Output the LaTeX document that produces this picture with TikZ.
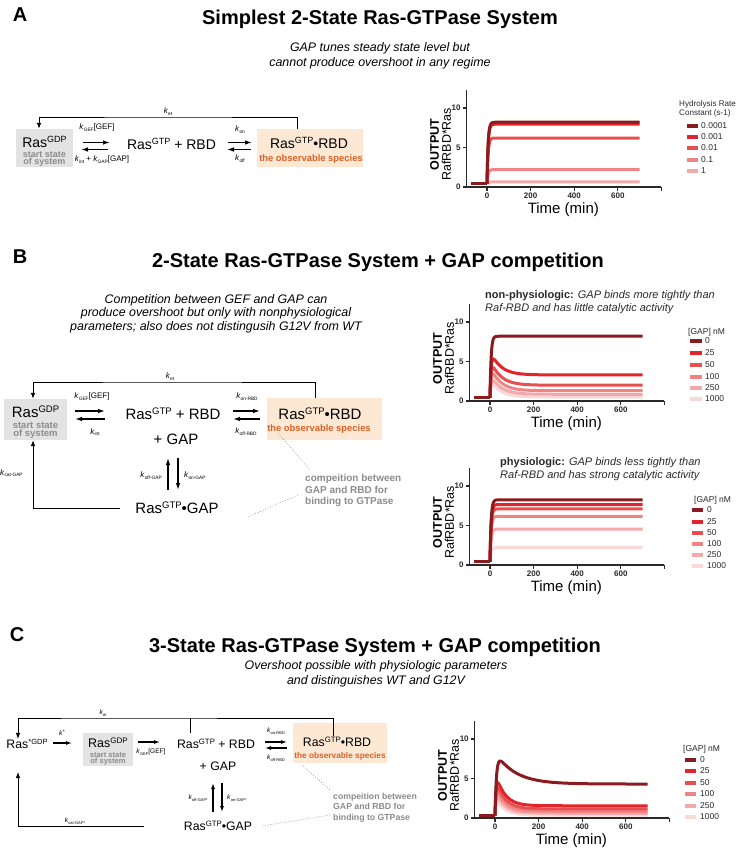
\documentclass[tikz,border=0pt]{standalone}
\usepackage{fontspec}
\setmainfont{Liberation Sans}
\usetikzlibrary{arrows.meta}
\definecolor{gboxc}{HTML}{E3E3E3}
\definecolor{oboxc}{HTML}{FDE8D4}
\definecolor{otxt}{HTML}{D4632A}
\definecolor{gtxt}{HTML}{8C8C8C}
\definecolor{axc}{HTML}{2A2A2A}
\definecolor{c0}{HTML}{8A1B1E}
\definecolor{c1}{HTML}{E2252A}
\definecolor{c2}{HTML}{E84F4E}
\definecolor{c3}{HTML}{EE8483}
\definecolor{c4}{HTML}{F3A9A9}
\definecolor{c5}{HTML}{F8D8D8}
\newcommand{\fs}[1]{\fontsize{#1}{#1}\selectfont}
\newcommand{\Sp}[2]{\raisebox{0.36em}{\fs{#1}#2}}
\newcommand{\kr}[2][4.8]{\textit{k}\raisebox{-0.22em}{\fs{#1}#2}}
\newcommand{\RasGTP}[1]{Ras\Sp{#1}{GTP}}
\newcommand{\ovs}[6]{\draw[crvs,#1] plot[domain=0:40,samples=41] (\x,{#2*dc(\x,#3)+(#4+#5*dc(\x,#6))*rs(\x,#3)}) -- plot[domain=40:700,samples=67] (\x,{#2*dc(\x,#3)+(#4+#5*dc(\x,#6))*rs(\x,#3)});}
\newcommand{\axesbody}{%
  \draw[axl] (-95,12.3) -- (-95,0) -- (800,0);
  \foreach \vv in {0,5,10} {\draw[axl] (-95,\vv) -- (-109,\vv); \node[tkl, anchor=east] at (-120,\vv) {\vv};}
  \foreach \tk in {0,200,400,600,800} {\draw[axl] (\tk,0) -- (\tk,-0.5);}
  \foreach \tk in {0,200,400,600} {\node[tkl, anchor=north] at (\tk,-0.75) {\tk};}
  \node[font=\fs{15}, inner sep=0] at (350,-2.85) {Time (min)};
  \node[rotate=90, align=center, font=\fontsize{12.5}{12}\selectfont, inner sep=0] at (-213,5.4) {\textbf{OUTPUT}\\RafRBD*Ras};
}
\tikzset{
  lett/.style={font=\bfseries\fs{20}, inner sep=0},
  ttl/.style={font=\bfseries\fs{20}, inner sep=0},
  subt/.style={font=\itshape\fontsize{12.4}{15}\selectfont, align=center, inner sep=0},
  subtB/.style={font=\itshape\fontsize{12.4}{13.5}\selectfont, align=center, inner sep=0},
  graybox/.style={fill=gboxc, draw=none, inner sep=0},
  orangebox/.style={fill=oboxc, draw=none, inner sep=0},
  spA/.style={font=\fs{14}, inner sep=0},
  spB/.style={font=\fs{15}, inner sep=0},
  spC/.style={font=\fs{12.3}, inner sep=0},
  startA/.style={font=\bfseries\fontsize{9}{7.6}\selectfont, text=gtxt, align=center, inner sep=0},
  startB/.style={font=\bfseries\fontsize{9.5}{8}\selectfont, text=gtxt, align=center, inner sep=0},
  startC/.style={font=\bfseries\fontsize{7.6}{6.4}\selectfont, text=gtxt, align=center, inner sep=0},
  obsA/.style={font=\bfseries\fs{9.4}, text=otxt, inner sep=0},
  obsC/.style={font=\bfseries\fs{8.3}, text=otxt, inner sep=0},
  rate/.style={font=\fs{8}, inner sep=0},
  rateC/.style={font=\fs{6.6}, inner sep=0},
  comp/.style={font=\bfseries\fontsize{10}{11.5}\selectfont, text=gtxt, align=left, inner sep=0},
  compC/.style={font=\bfseries\fontsize{8.7}{10.3}\selectfont, text=gtxt, align=left, inner sep=0},
  eqar/.style={line width=1.3pt, -{Latex[length=7pt,width=4.6pt]}},
  eqarC/.style={line width=1.1pt, -{Latex[length=6pt,width=4pt]}},
  fbl/.style={line width=0.9pt},
  fbar/.style={line width=0.9pt, -{Latex[length=6pt,width=4.6pt]}},
  dotl/.style={gtxt, line width=0.7pt, dotted},
  axl/.style={axc, line width=1.3pt},
  tkl/.style={font=\bfseries\fs{8}, inner sep=0, text=axc},
  crvs/.style={line width=3pt, line join=round},
  legt/.style={font=\fontsize{8.5}{9.5}\selectfont, inner sep=0, text=axc},
  legtA/.style={font=\fontsize{8.1}{9.5}\selectfont, inner sep=0, text=axc},
  legsw/.style={line width=3.6pt},
  ptitle/.style={font=\fontsize{11}{13.5}\selectfont, align=left, inner sep=0, text=axc}
}
\begin{document}
\begin{tikzpicture}[x=1pt,y=-1pt,
  declare function={rs(\tm,\tc)=1-exp(max(-\tm/\tc,-15)); dc(\tm,\tc)=exp(max(-\tm/\tc,-15));}]
\fill[white] (0,0) rectangle (736,850);
\useasboundingbox (0,0) rectangle (736,850);

%================ PANEL A =================
\node[lett] (LA) at (20,15) {A};
\node[ttl] (TA) at (380,19) {Simplest 2-State Ras-GTPase System};
\node[subt] (SA) at (380,55.5) {GAP tunes steady state level but\\cannot produce overshoot in any regime};

\node[graybox, minimum width=57pt, minimum height=38pt] (Abx) at (44.5,148) {};
\node[spA] (Agdp) at (44.5,142) {Ras\Sp{9}{GDP}};
\node[startA] (Ast) at (44.5,159) {start state\\of system};
\node[spA] (Agtp) at (171.5,144) {\RasGTP{9} + RBD};
\node[orangebox, minimum width=106pt, minimum height=38pt] (Aobx) at (310,148) {};
\node[spA] (Arbd) at (309,143) {\RasGTP{9}\textbullet RBD};
\node[obsA] (Aobs) at (311,159.5) {the observable species};
\node[rate] (AkG) at (97,128) {\kr{GEF}[GEF]};
\node[rate] (AkI) at (102,160) {\kr{int} + \kr{GAP}[GAP]};
\node[rate] (Akon) at (240,130) {\kr{on}};
\node[rate] (Akoff) at (240,159) {\kr{off}};
\coordinate (Atop) at (168,117);
\node[rate] (Aket) at (168,112) {\kr{et}};
\draw[fbar] ([xshift=-13pt]Aobx.north) |- (Atop) -| ([xshift=-5.5pt]Abx.north);
\coordinate (Ae1a) at (83,142.5); \coordinate (Ae1b) at (110,142.5);
\coordinate (Ae1c) at (108,149.5); \coordinate (Ae1d) at (81,149.5);
\draw[eqar] (Ae1a) -- (Ae1b); \draw[eqar] (Ae1c) -- (Ae1d);
\coordinate (Ae2a) at (228,142.5); \coordinate (Ae2b) at (252,142.5);
\coordinate (Ae2c) at (251,149.5); \coordinate (Ae2d) at (227,149.5);
\draw[eqar] (Ae2a) -- (Ae2b); \draw[eqar] (Ae2c) -- (Ae2d);

% plot A
\begin{scope}[shift={(487,187)},x=0.218pt,y=7.9pt]
\axesbody
\ovs{c4}{0.4}{5}{0.65}{0}{1}
\ovs{c3}{0.4}{5}{2.2}{0}{1}
\ovs{c2}{0.4}{5}{6.2}{0}{1}
\ovs{c1}{0.4}{5}{7.95}{0}{1}
\ovs{c0}{0.4}{5}{8.2}{0}{1}
\draw[crvs,c0] (-75,0.4) -- (0,0.4);
\end{scope}
\node[legtA, anchor=north west, align=left] (LgA) at (679,100) {Hydrolysis Rate\\Constant (s-1)};
\foreach \clr/\lab/\yy in {c0/0.0001/126, c1/0.001/137, c2/0.01/148, c3/0.1/160, c4/1/171}
  {\draw[legsw,\clr] (687,\yy) -- (698,\yy); \node[legt, anchor=west] at (701,\yy) {\lab};}

%================ PANEL B =================
\node[lett] (LB) at (20,257) {B};
\node[ttl] (TB) at (378,262) {2-State Ras-GTPase System + GAP competition};
\node[subtB] (SB) at (216,313.5) {Competition between GEF and GAP can\\produce overshoot but only with nonphysiological\\parameters; also does not distingusih G12V from WT};

\node[graybox, minimum width=63pt, minimum height=41pt] (Bbx) at (35.5,419.5) {};
\node[spB] (Bgdp) at (35.5,412) {Ras\Sp{9.5}{GDP}};
\node[startB] (Bst) at (35.5,430) {start state\\of system};
\node[spB] (Bgtp) at (173,414) {\RasGTP{9.5} + RBD};
\node[spB] (Bgap) at (176,439) {+ GAP};
\node[orangebox, minimum width=115pt, minimum height=42pt] (Bobx) at (324.5,419) {};
\node[spB] (Brbd) at (320,414) {\RasGTP{9.5}\textbullet RBD};
\node[obsA] (Bobs) at (319,429) {the observable species};
\node[spB] (Bcpx) at (177,508) {\RasGTP{9.5}\textbullet GAP};
\node[rate] (BkG) at (92,397) {\kr{GEF}[GEF]};
\node[rate] (BkI) at (95,432) {\kr{int}};
\node[rate] (Bkon) at (247,397) {\kr{on-RBD}};
\node[rate] (Bkoff) at (246,432) {\kr{off-RBD}};
\node[rate, anchor=east] (BkoffG) at (162,476) {\kr{off-GAP}};
\node[rate, anchor=west] (BkonG) at (184,476) {\kr{on-GAP}};
\node[rate, anchor=west] (BkcG) at (0,473) {\kr{cat-GAP}};
\coordinate (Btop) at (170,382);
\node[rate] (Bket) at (170,377) {\kr{et}};
\draw[fbar] ([xshift=-9.5pt]Bobx.north) |- (Btop) -| ([xshift=-2.5pt]Bbx.north);
\draw[fbar] ([xshift=-15pt]Bcpx.west) -| ([xshift=-2.5pt]Bbx.south);
\coordinate (Be1a) at (75,411); \coordinate (Be1b) at (105,411);
\coordinate (Be1c) at (105,419); \coordinate (Be1d) at (75,419);
\draw[eqar] (Be1a) -- (Be1b); \draw[eqar] (Be1c) -- (Be1d);
\coordinate (Be2a) at (233,411); \coordinate (Be2b) at (260,411);
\coordinate (Be2c) at (260,419); \coordinate (Be2d) at (233,419);
\draw[eqar] (Be2a) -- (Be2b); \draw[eqar] (Be2c) -- (Be2d);
\coordinate (Bv1a) at (168,490); \coordinate (Bv1b) at (168,458);
\coordinate (Bv2a) at (178,458); \coordinate (Bv2b) at (178,490);
\draw[eqar] (Bv1a) -- (Bv1b); \draw[eqar] (Bv2a) -- (Bv2b);
\node[comp, anchor=west] (Bcomp) at (305,490.5) {compeition between\\GAP and RBD for\\binding to GTPase};
\coordinate (Bd1) at (278,433); \coordinate (Bd2) at (310,470);
\coordinate (Bd3) at (298,495); \coordinate (Bd4) at (248,517);
\draw[dotl] (Bd1) -- (Bd2); \draw[dotl] (Bd3) -- (Bd4);

% plot B1
\node[ptitle, anchor=north west] (PB1) at (485,290) {\textbf{non-physiologic:} \textit{GAP binds more tightly than}\\\textit{Raf-RBD and has little catalytic activity}};
\begin{scope}[shift={(490,401)},x=0.218pt,y=7.9pt]
\axesbody
\ovs{c5}{0.4}{5}{0.5}{2.23}{45}
\ovs{c4}{0.4}{5}{0.85}{2.63}{45}
\ovs{c3}{0.4}{5}{1.3}{3.18}{45}
\ovs{c2}{0.4}{5}{2.0}{3.37}{45}
\ovs{c1}{0.4}{5}{3.3}{3.18}{45}
\ovs{c0}{0.4}{5}{8.2}{0}{1}
\draw[crvs,c0] (-75,0.4) -- (0,0.4);
\end{scope}
\node[legt, anchor=west] (LgB1) at (688,332) {[GAP] nM};
\foreach \clr/\lab/\yy in {c0/0/341, c1/25/353, c2/50/365, c3/100/377, c4/250/388, c5/1000/399}
  {\draw[legsw,\clr] (690,\yy) -- (702,\yy); \node[legt, anchor=west] at (705,\yy) {\lab};}

% plot B2
\node[ptitle, anchor=north west] (PB2) at (500,457) {\textbf{physiologic:} \textit{GAP binds less tightly than}\\\textit{Raf-RBD and has strong catalytic activity}};
\begin{scope}[shift={(490,565)},x=0.218pt,y=7.9pt]
\axesbody
\ovs{c5}{0.4}{5}{2.2}{0}{1}
\ovs{c4}{0.4}{5}{4.55}{0}{1}
\ovs{c3}{0.4}{5}{6.15}{0}{1}
\ovs{c2}{0.4}{5}{7.1}{0}{1}
\ovs{c1}{0.4}{5}{7.65}{0}{1}
\ovs{c0}{0.4}{5}{8.25}{0}{1}
\draw[crvs,c0] (-75,0.4) -- (0,0.4);
\end{scope}
\node[legt, anchor=west] (LgB2) at (694,500) {[GAP] nM};
\foreach \clr/\lab/\yy in {c0/0/510, c1/25/522, c2/50/533, c3/100/544, c4/250/555, c5/1000/566}
  {\draw[legsw,\clr] (692,\yy) -- (703,\yy); \node[legt, anchor=west] at (707,\yy) {\lab};}

%================ PANEL C =================
\node[lett] (LC) at (17,635) {C};
\node[ttl] (TC) at (375,647) {3-State Ras-GTPase System + GAP competition};
\node[subt] (SC) at (376,673.5) {Overshoot possible with physiologic parameters\\and distinguishes WT and G12V};

\node[spC] (Cstar) at (27,744) {Ras\Sp{7.5}{*GDP}};
\node[graybox, minimum width=50pt, minimum height=33pt] (Cbx) at (108,749.5) {};
\node[font=\fs{12.5}, inner sep=0] (Cgdp) at (108,743) {Ras\Sp{8}{GDP}};
\node[startC] (Cst) at (108,758.5) {start state\\of system};
\node[spC] (Cgtp) at (216,744) {\RasGTP{7.8} + RBD};
\node[spC] (Cgap) at (218,766) {+ GAP};
\node[orangebox, minimum width=94pt, minimum height=40pt] (Cobx) at (340,743) {};
\node[spC] (Crbd) at (337,742) {\RasGTP{7.8}\textbullet RBD};
\node[obsC] (Cobs) at (340,756) {the observable species};
\node[spC] (Ccpx) at (218,826) {\RasGTP{7.8}\textbullet GAP};
\node[rateC] (Ckst) at (62,733) {\textit{k}\Sp{5}{*}};
\node[rateC] (CkG) at (151,752) {\kr[4]{GEF}[GEF]};
\node[rateC] (Ckon) at (276,731) {\kr[4]{on-RBD}};
\node[rateC] (Ckoff) at (276,758) {\kr[4]{off-RBD}};
\node[rateC, anchor=east] (CkoffG) at (208,798) {\kr[4]{off-GAP*}};
\node[rateC, anchor=west] (CkonG) at (227,798) {\kr[4]{on-GAP*}};
\node[rateC] (CkcG) at (75,821) {\kr[4]{cat-GAP*}};
\coordinate (Ctop) at (103,718);
\node[rateC] (Cket) at (103,713) {\kr[4]{et}};
\draw[fbar] (333,736) |- (Ctop) -| ([xshift=-9pt]Cstar.north);
\draw[fbl] (190,718) -- (190,733);
\draw[fbar] ([xshift=-40pt]Ccpx.west) -| (18,772);
\coordinate (Cs1) at (53,743); \coordinate (Cs2) at (72,743);
\draw[eqarC] (Cs1) -- (Cs2);
\coordinate (Cg1) at (138,742); \coordinate (Cg2) at (160,742);
\draw[eqarC] (Cg1) -- (Cg2);
\coordinate (Ce1a) at (265,742); \coordinate (Ce1b) at (287,742);
\coordinate (Ce1c) at (287,748); \coordinate (Ce1d) at (265,748);
\draw[eqarC] (Ce1a) -- (Ce1b); \draw[eqarC] (Ce1c) -- (Ce1d);
\coordinate (Cv1a) at (213,812); \coordinate (Cv1b) at (213,783);
\coordinate (Cv2a) at (222,783); \coordinate (Cv2b) at (222,812);
\draw[eqarC] (Cv1a) -- (Cv1b); \draw[eqarC] (Cv2a) -- (Cv2b);
\node[compC, anchor=west] (Ccomp) at (333,807.5) {compeition between\\GAP and RBD for\\binding to GTPase};
\coordinate (Cd1) at (303,766); \coordinate (Cd2) at (330,790);
\coordinate (Cd3) at (330,815); \coordinate (Cd4) at (262,826);
\draw[dotl] (Cd1) -- (Cd2); \draw[dotl] (Cd3) -- (Cd4);

% plot C
\begin{scope}[shift={(495,818)},x=0.218pt,y=7.9pt]
\axesbody
\ovs{c5}{0.3}{5}{0.35}{2.35}{40}
\ovs{c4}{0.3}{5}{0.6}{2.93}{40}
\ovs{c3}{0.3}{5}{0.85}{3.5}{40}
\ovs{c2}{0.3}{5}{1.15}{4.0}{40}
\ovs{c1}{0.3}{5}{1.55}{4.5}{40}
\ovs{c0}{0.3}{7}{4.3}{4.1}{90}
\draw[crvs,c0] (-75,0.3) -- (0,0.3);
\end{scope}
\node[legt, anchor=west] (LgC) at (683,749) {[GAP] nM};
\foreach \clr/\lab/\yy in {c0/0/760, c1/25/771, c2/50/783, c3/100/794, c4/250/806, c5/1000/817}
  {\draw[legsw,\clr] (685,\yy) -- (696,\yy); \node[legt, anchor=west] at (700,\yy) {\lab};}
\end{tikzpicture}
\end{document}
